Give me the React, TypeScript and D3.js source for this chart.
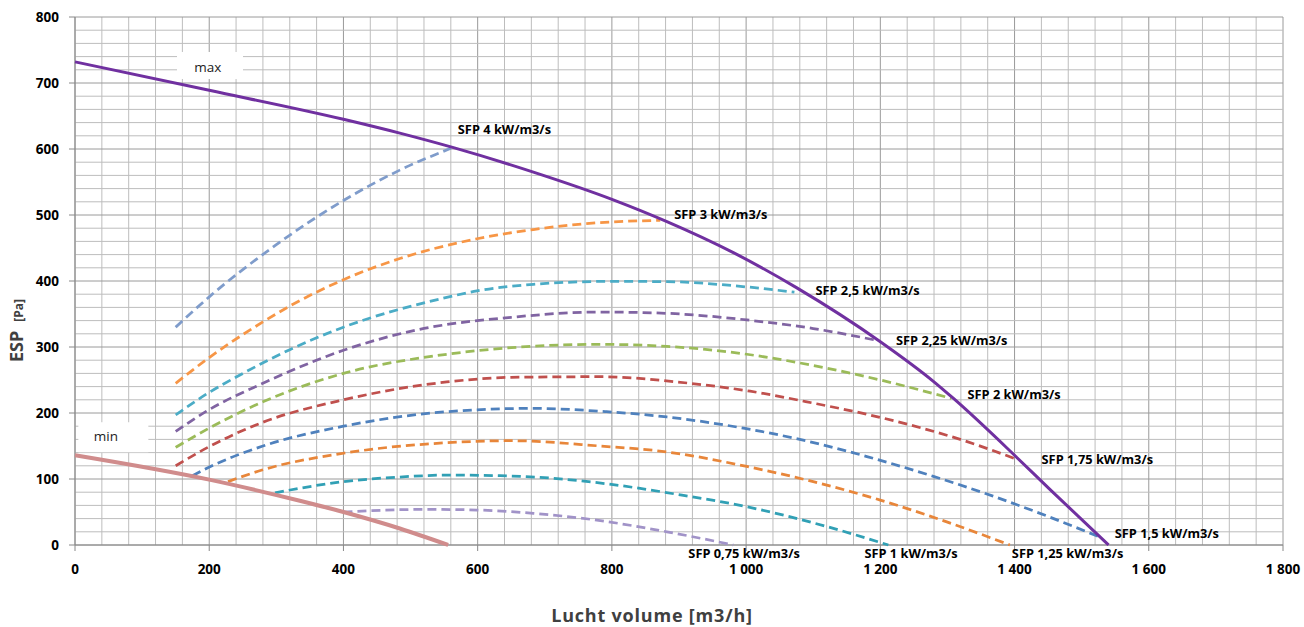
import React from "react";
import * as d3 from "d3";

const xTicks = [0, 200, 400, 600, 800, 1000, 1200, 1400, 1600, 1800];
const yTicks = [0, 100, 200, 300, 400, 500, 600, 700, 800];

const maxX = [0, 200, 400, 484, 564, 683, 802, 882, 981, 1075, 1200, 1279, 1309, 1403, 1453, 1540];
const maxY = [732, 689, 645, 624, 602, 565, 523, 490, 443, 390, 308, 248, 222, 133, 84, 0];

const minX = [0, 200, 335, 400, 484, 556];
const minY = [136, 99, 67, 50, 25, 0];

const sfp4X = [150, 200, 300, 400, 484, 560];
const sfp4Y = [330, 376, 455, 522, 568, 601];
const sfp3X = [150, 200, 280, 320, 400, 484, 599, 683, 762, 872];
const sfp3Y = [245, 284, 338, 362, 402, 434, 464, 478, 487, 492];
const sfp25X = [150, 198, 243, 320, 400, 549, 599, 683, 802, 882, 1001, 1072];
const sfp25Y = [197, 230, 256, 296, 330, 374, 385, 395, 399.5, 399, 391, 383];
const sfp225X = [150, 198, 280, 400, 510, 650, 782, 882, 1001, 1100, 1195];
const sfp225Y = [172, 204, 245, 295, 326, 345, 353, 351, 341, 328, 310];
const sfp2X = [150, 198, 280, 400, 554, 650, 782, 882, 1001, 1100, 1200, 1306];
const sfp2Y = [148, 176, 217, 260, 289, 299, 304, 301, 289, 272, 250, 222];
const sfp175X = [150, 198, 280, 400, 554, 650, 782, 897, 1006, 1100, 1180, 1244, 1319, 1403];
const sfp175Y = [120, 148, 186, 220, 247, 254, 255, 247, 233, 215, 198, 182, 160, 130];
const sfp15X = [175, 198, 280, 400, 554, 680, 792, 882, 996, 1080, 1180, 1279, 1368, 1448, 1527];
const sfp15Y = [105, 117, 150, 180, 202, 207, 202, 194, 177, 160, 134, 104, 74, 44, 12];
const sfp125X = [228, 280, 400, 554, 650, 782, 882, 1001, 1100, 1200, 1299, 1393];
const sfp125Y = [96, 114, 139, 155, 158, 150, 141, 119, 96, 68, 35, 0];
const sfp1X = [298, 335, 400, 484, 559, 633, 713, 790, 902, 1001, 1120, 1212];
const sfp1Y = [79, 86, 96, 103, 106, 105, 101, 93, 76, 58, 28, 0];
const sfp075X = [400, 524, 599, 683, 775, 882, 981];
const sfp075Y = [50, 54, 53, 48, 38, 20, 0];

const sfpLabels = [
  "SFP 4 kW/m3/s", "SFP 3 kW/m3/s", "SFP 2,5 kW/m3/s", "SFP 2,25 kW/m3/s", "SFP 2 kW/m3/s",
  "SFP 1,75 kW/m3/s", "SFP 1,5 kW/m3/s", "SFP 1,25 kW/m3/s", "SFP 1 kW/m3/s", "SFP 0,75 kW/m3/s",
];
const sfpXs = [sfp4X, sfp3X, sfp25X, sfp225X, sfp2X, sfp175X, sfp15X, sfp125X, sfp1X, sfp075X];
const sfpYs = [sfp4Y, sfp3Y, sfp25Y, sfp225Y, sfp2Y, sfp175Y, sfp15Y, sfp125Y, sfp1Y, sfp075Y];
const sfpColors = ["#7F9CCB", "#F79646", "#4BACC6", "#8064A2", "#9BBB59", "#C0504D", "#4F81BD", "#E8863A", "#31A0B5", "#A193C8"];
const labelDx = [7, 14, 21, 19, 16, 25, 15, 2, -24, -45];
const labelDy = [-19, -6, -2, 0, -4, 0, -4, 8.5, 8.5, 8.5];

const W = 1304;
const H = 627;
const margin = { left: 75, right: 21, top: 17, bottom: 82 };

const x = d3.scaleLinear().domain([0, 1800]).range([margin.left, W - margin.right]);
const y = d3.scaleLinear().domain([0, 800]).range([H - margin.bottom, margin.top]);

const fmt = d3.formatLocale({ decimal: ",", thousands: " ", grouping: [3], currency: ["", ""] }).format(",");

const FONT = "'Open Sans', 'Noto Sans', sans-serif";

export default function App() {
  const line = d3
    .line<[number, number]>()
    .x((d) => x(d[0]))
    .y((d) => y(d[1]))
    .curve(d3.curveMonotoneX);

  const pts = (xs: number[], ys: number[]) => xs.map((v, i) => [v, ys[i]] as [number, number]);

  const minorX = d3.range(0, 1801, 40);
  const minorY = d3.range(0, 801, 20);

  return (
    <svg width={W} height={H} style={{ position: "absolute", left: 0, top: 0, background: "#fff" }} fontFamily={FONT}>
      {/* grid */}
      {minorX.map((v) => (
        <line key={"gx" + v} x1={x(v)} x2={x(v)} y1={y(0)} y2={y(800)}
          stroke={v % 200 === 0 ? "#9a9a9a" : "#bdbdbd"} strokeWidth={1} />
      ))}
      {minorY.map((v) => (
        <line key={"gy" + v} x1={x(0)} x2={x(1800)} y1={y(v)} y2={y(v)}
          stroke={v % 100 === 0 ? "#9a9a9a" : "#bdbdbd"} strokeWidth={1} />
      ))}
      {/* axes */}
      <line x1={x(0)} x2={x(0)} y1={y(0)} y2={y(800)} stroke="#888" />
      <line x1={x(0)} x2={x(1800)} y1={y(0)} y2={y(0)} stroke="#888" />
      {yTicks.map((v) => (
        <g key={"yt" + v}>
          <line x1={x(0) - 6} x2={x(0)} y1={y(v)} y2={y(v)} stroke="#888" />
          <text x={x(0) - 16} y={y(v)} dy="0.36em" textAnchor="end" fontSize={13.5} fontWeight="bold" fill="#000">
            {fmt(v)}
          </text>
        </g>
      ))}
      {xTicks.map((v) => (
        <g key={"xt" + v}>
          <line x1={x(v)} x2={x(v)} y1={y(0)} y2={y(0) + 6} stroke="#888" />
          <text x={x(v)} y={y(0) + 29} textAnchor="middle" fontSize={13.5} fontWeight="bold" fill="#000">
            {fmt(v)}
          </text>
        </g>
      ))}

      {/* SFP dashed curves */}
      {sfpXs.map((xs, i) => (
        <path key={"sfp" + i} d={line(pts(xs, sfpYs[i])) || ""} fill="none" stroke={sfpColors[i]}
          strokeWidth={2.75} strokeDasharray="9,5" />
      ))}

      {/* min and max curves */}
      <path d={line(pts(minX, minY)) || ""} fill="none" stroke="#D08C8C" strokeWidth={4} />
      <path d={line(pts(maxX, maxY)) || ""} fill="none" stroke="#7030A0" strokeWidth={3} />

      {/* SFP labels */}
      {sfpLabels.map((t, i) => {
        const xs = sfpXs[i];
        const ys = sfpYs[i];
        const n = xs.length - 1;
        return (
          <text key={"lbl" + i} x={x(xs[n]) + labelDx[i]} y={y(ys[n]) + labelDy[i]} dy="0.35em"
            fontSize={12.8} fontWeight="bold" fill="#000">
            {t}
          </text>
        );
      })}

      {/* max/min boxes */}
      <rect x={x(152)} y={y(747)} width={66} height={27} fill="#fff" />
      <text x={x(198)} y={y(724)} dy="0.35em" textAnchor="middle" fontSize={13.5} fill="#222">max</text>
      <rect x={x(5)} y={y(186)} width={70} height={30} fill="#fff" />
      <text x={x(46)} y={y(164)} dy="0.35em" textAnchor="middle" fontSize={13.5} fill="#222">min</text>

      {/* axis titles */}
      <text x={652} y={622} textAnchor="middle" fontSize={18} fontWeight="bold" fill="#404040" letterSpacing={0.8}>
        Lucht volume [m3/h]
      </text>
      <text transform="translate(23,362) rotate(-90)" fontWeight="bold" fill="#404040">
        <tspan fontSize={18}>ESP</tspan>
        <tspan fontSize={12} dx={9}>[Pa]</tspan>
      </text>
    </svg>
  );
}
